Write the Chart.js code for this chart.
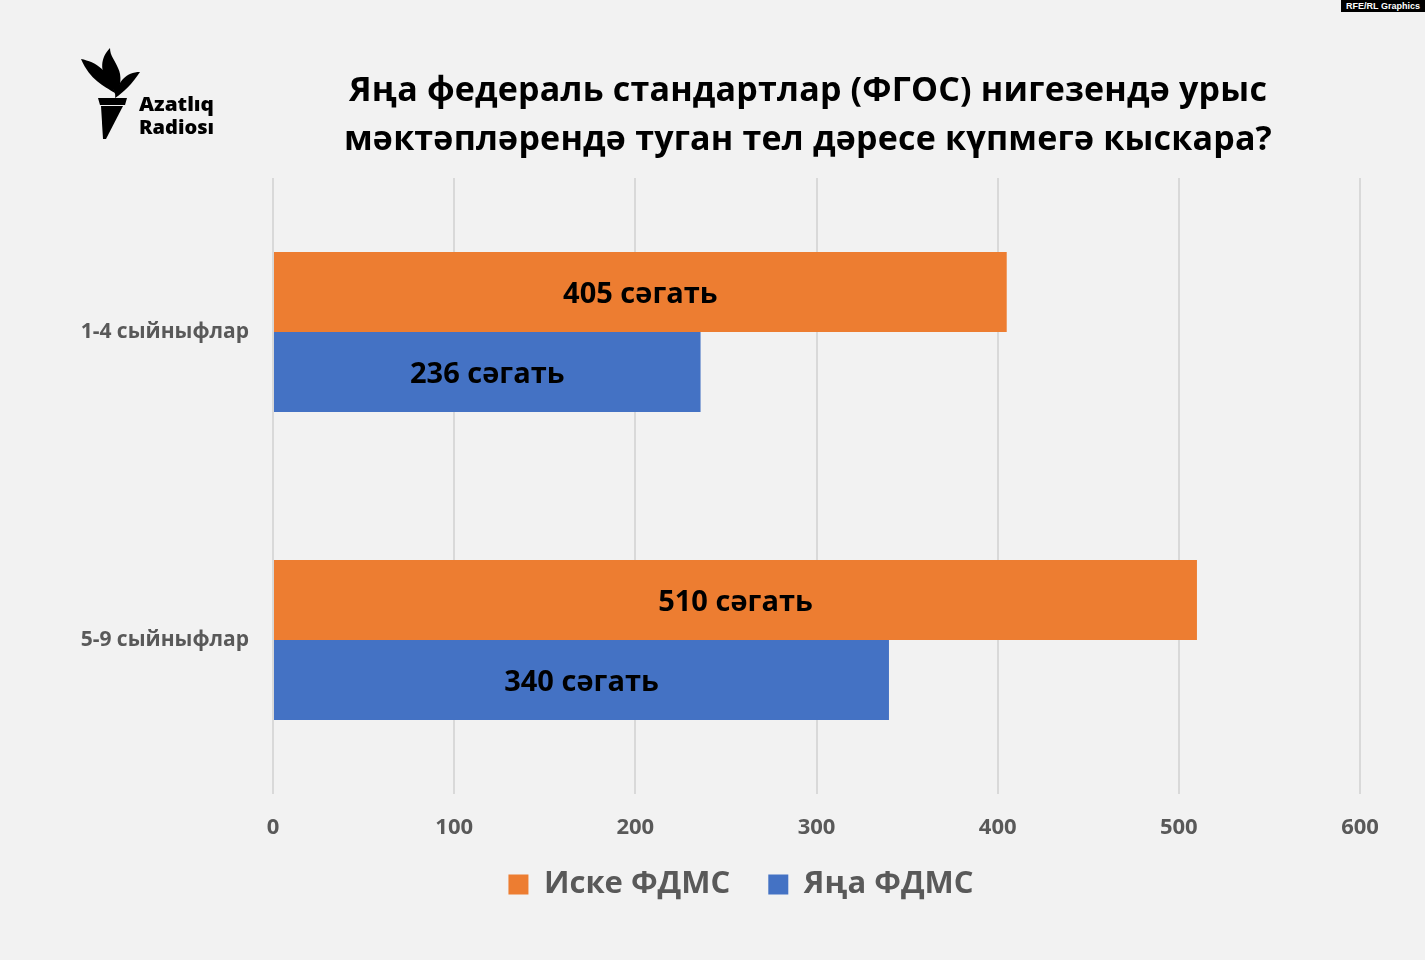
<!DOCTYPE html>
<html><head><meta charset="utf-8">
<script src="https://cdn.jsdelivr.net/npm/chart.js@4.4.1/dist/chart.umd.min.js"></script>
<style>
html,body{margin:0;padding:0;background:#f2f2f2;}
#wrap{position:relative;width:1425px;height:960px;overflow:hidden;background:#f2f2f2;}
#c{position:absolute;left:0;top:0;}
#title{position:absolute;left:208px;width:1200px;top:64px;text-align:center;font-weight:bold;font-size:34px;line-height:49px;color:#000;font-family:'Open Sans',sans-serif;white-space:nowrap;}
#title span{display:inline-block;}
#rfe{position:absolute;right:0;top:0;width:84px;height:12px;background:#000;color:#fff;font:bold 9px/12px 'Liberation Sans',Arial,sans-serif;text-align:center;}
#logo{position:absolute;left:0;top:0;}
</style></head>
<body><div id="wrap">
<canvas id="c" width="1425" height="960"></canvas>
<div id="title"><span id="t1">Яңа федераль стандартлар (ФГОС) нигезендә урыс</span><br><span id="t2">мәктәпләрендә туган тел дәресе күпмегә кыскара?</span></div>
<div id="rfe">RFE/RL Graphics</div>
<svg id="logo" width="260" height="160" viewBox="0 0 260 160">
<g fill="#000">
<path d="M81,59 C96,62 109,70 115,93 C104,86 90,80 81,59 Z"/>
<path d="M110,48 C100,58 100,72 108,80 C112,86 114,90 116,97 C121,86 122,76 118,68 C115,60 110,56 110,48 Z"/>
<path d="M140,72 C126,72 117,82 115,98 C124,92 132,84 140,72 Z"/>
<path d="M98,98 L127,98 L125,105 L100,105 Z"/>
<path d="M101,106 L123,106 L106,139 L103,139 Z"/>
<text x="139" y="111" font-family="'Open Sans',sans-serif" font-weight="800" font-size="20" textLength="75" lengthAdjust="spacingAndGlyphs">Azatlıq</text>
<text x="139" y="134" font-family="'Open Sans',sans-serif" font-weight="800" font-size="20" textLength="75" lengthAdjust="spacingAndGlyphs">Radiosı</text>
</g>
</svg>
</div>
<script>
const FONT = "'Open Sans',sans-serif";
const FW = 'bold';
const categories = ['1-4 сыйныфлар', '5-9 сыйныфлар'];
const seriesNames = ['Иске ФДМС', 'Яңа ФДМС'];
const oldHours = [405, 510];
const newHours = [236, 340];
const xTickValues = [0, 100, 200, 300, 400, 500, 600];
const unitLabel = 'сәгать';

// fit title line width to the reference (~918px) with tight tracking
(function fitTitle(){
  const el = document.getElementById('title');
  const t1 = document.getElementById('t1');
  const n = t1.textContent.length;
  let fs = 34;
  el.style.fontSize = fs + 'px';
  let w = t1.getBoundingClientRect().width;
  let ls = (918 - w) / n;
  if (ls < -1.6) {
    ls = -1.6;
    el.style.letterSpacing = ls + 'px';
    w = t1.getBoundingClientRect().width;
    fs = fs * 918 / w;
    el.style.fontSize = fs.toFixed(2) + 'px';
    ls = ls * fs / 34;
  }
  el.style.letterSpacing = ls.toFixed(2) + 'px';
  const lh = 49;
  el.style.top = (102 - ((lh - 1.362 * fs) / 2 + 1.069 * fs)).toFixed(1) + 'px';
})();

const barLabels = {
  id: 'barLabels',
  afterDatasetsDraw(chart) {
    const ctx = chart.ctx;
    ctx.save();
    ctx.font = FW + ' 29px ' + FONT;
    ctx.fillStyle = '#000';
    ctx.textAlign = 'center';
    ctx.textBaseline = 'middle';
    chart.data.datasets.forEach((ds, i) => {
      chart.getDatasetMeta(i).data.forEach((bar, j) => {
        ctx.fillText(ds.data[j] + ' ' + unitLabel, (bar.x + bar.base) / 2, bar.y + 3);
      });
    });
    ctx.restore();
  }
};

const legendShift = {
  id: 'legendShift',
  afterLayout(chart) {
    const lg = chart.legend;
    lg.left += 29; lg.right += 29;
    lg.top -= 23; lg.bottom -= 23;
  }
};

new Chart(document.getElementById('c'), {
  type: 'bar',
  data: {
    labels: categories,
    datasets: [
      { label: seriesNames[0], data: oldHours, backgroundColor: '#ed7d31', borderWidth: 0 },
      { label: seriesNames[1], data: newHours, backgroundColor: '#4472c4', borderWidth: 0 }
    ]
  },
  options: {
    indexAxis: 'y',
    responsive: false,
    animation: false,
    layout: { padding: { top: 178, left: 64, right: 65, bottom: 27 } },
    datasets: { bar: { categoryPercentage: 0.52, barPercentage: 1 } },
    scales: {
      x: {
        min: xTickValues[0], max: xTickValues[xTickValues.length - 1],
        afterBuildTicks(s) { s.ticks = xTickValues.map(v => ({ value: v })); },
        ticks: { color: '#595959', font: { size: 22, weight: FW, family: FONT }, padding: 21 },
        grid: { color: '#d9d9d9', lineWidth: 2, drawTicks: false },
        border: { display: false },
        afterFit(s) { s.height = 60; }
      },
      y: {
        ticks: { color: '#595959', font: { size: 21, weight: FW, family: FONT }, padding: 24 },
        grid: { display: false, drawTicks: false },
        border: { display: false },
        afterFit(s) { s.width = 273 - 64; }
      }
    },
    plugins: {
      legend: {
        position: 'bottom',
        labels: { boxWidth: 20, boxHeight: 20, padding: 38, color: '#595959', font: { size: 31, weight: FW, family: FONT } }
      },
      tooltip: { enabled: false }
    }
  },
  plugins: [barLabels, legendShift]
});
</script>
</body></html>
